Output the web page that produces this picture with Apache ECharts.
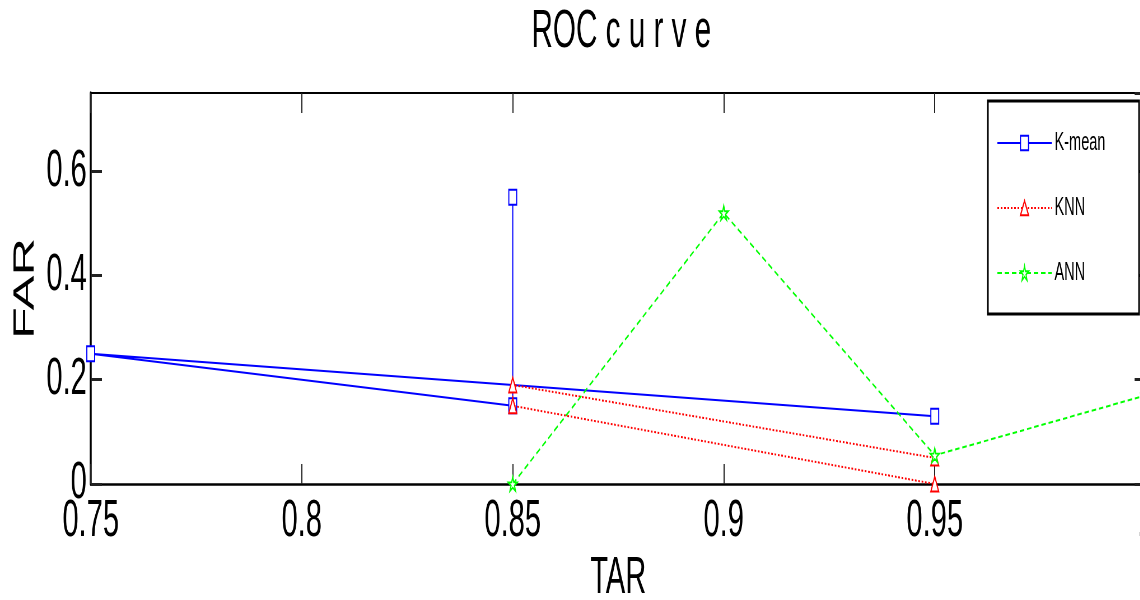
<!DOCTYPE html>
<html>
<head>
<meta charset="utf-8">
<script src="https://cdn.jsdelivr.net/npm/echarts@6/dist/echarts.min.js"></script>
<style>
  html, body { margin: 0; padding: 0; overflow: hidden; background: #fff; width: 1140px; height: 600px; }
  /* the reference is a horizontally squeezed MATLAB figure, so draw wide and squeeze */
  #chart { position: absolute; left: 0; top: 0; width: 2060px; height: 600px;
           transform: scaleX(0.56); transform-origin: 0 0; }
</style>
</head>
<body>
<div id="chart"></div>
<script>
const xTicks = [0.75, 0.8, 0.85, 0.9, 0.95, 1.0];
const yTicks = [0, 0.2, 0.4, 0.6];

const seriesNames = ['K-mean', 'KNN', 'ANN'];

const kmeanTAR = [0.95, 0.75, 0.85, 0.85];
const kmeanFAR = [0.13, 0.25, 0.15, 0.55];

const knnTAR = [0.95, 0.85, 0.85, 0.95];
const knnFAR = [0.05, 0.19, 0.15, 0.0];

const annTAR = [0.85, 0.9, 0.95, 1.0];
const annFAR = [0.0, 0.52, 0.055, 0.17];

const starPath = 'path://M100 0 L122.5 69.1 L195.1 69.1 L136.3 111.8 L158.8 180.9 L100 138.2 L41.2 180.9 L63.7 111.8 L4.9 69.1 L77.5 69.1 Z';

function zip(xs, ys) {
  return xs.map((x, i) => [x, ys[i]]);
}

const font = '"Liberation Sans", Arial, Helvetica, sans-serif';

const chart = echarts.init(document.getElementById('chart'));

const baseX = {
  type: 'value',
  min: xTicks[0],
  max: xTicks[xTicks.length - 1],
  interval: 0.05,
  splitLine: { show: false },
  axisLine: { show: true, onZero: false, lineStyle: { color: '#000', width: 2.5 } },
  axisTick: { show: true, inside: true, length: 20, lineStyle: { color: '#222', width: 2 } }
};

const baseY = {
  type: 'value',
  min: yTicks[0],
  max: 0.75,
  interval: 0.2,
  splitLine: { show: false },
  axisLine: { show: true, onZero: false, lineStyle: { color: '#000', width: 3.5 } },
  axisTick: { show: true, inside: true, length: 20, lineStyle: { color: '#222', width: 3 } }
};

chart.setOption({
  animation: false,
  backgroundColor: '#fff',
  title: {
    text: 'ROC c u r v e',
    left: 944,
    top: 1,
    textStyle: { fontFamily: font, fontSize: 53, fontWeight: 'normal', color: '#000' }
  },
  grid: { left: 162, right: 14, top: 93, bottom: 116, containLabel: false, outerBoundsMode: 'none' },
  legend: {
    data: seriesNames,
    orient: 'vertical',
    left: 1764,
    top: 101,
    width: 268,
    padding: [29, 60, 28, 16],
    itemGap: 39,
    itemWidth: 97,
    itemHeight: 18,
    backgroundColor: '#fff',
    borderColor: '#000',
    borderWidth: 3,
    borderRadius: 0,
    textStyle: { fontFamily: font, fontSize: 26, color: '#000' }
  },
  xAxis: [
    Object.assign({}, baseX, {
      position: 'bottom',
      name: 'TAR',
      nameLocation: 'middle',
      nameGap: 66,
      nameTextStyle: { fontFamily: font, fontSize: 52, color: '#000' },
      axisLabel: { margin: 12, fontFamily: font, fontSize: 52, color: '#000' }
    }),
    Object.assign({}, baseX, {
      position: 'top',
      axisLabel: { show: false },
      axisLine: { show: true, onZero: false, lineStyle: { color: '#000', width: 2 } }
    })
  ],
  yAxis: [
    Object.assign({}, baseY, {
      position: 'left',
      name: 'FAR',
      nameLocation: 'middle',
      nameGap: 90,
      nameTextStyle: { fontFamily: font, fontSize: 52, color: '#000' },
      axisLabel: { margin: 7, fontFamily: font, fontSize: 52, color: '#000', showMaxLabel: false }
    }),
    Object.assign({}, baseY, {
      position: 'right',
      axisLabel: { show: false }
    })
  ],
  series: [
    {
      name: seriesNames[0],
      type: 'line',
      data: zip(kmeanTAR, kmeanFAR),
      symbol: 'emptyRect',
      symbolSize: [14, 15],
      lineStyle: { color: '#0000ff', width: 2, type: 'solid' },
      itemStyle: { color: '#0000ff', borderWidth: 2 },
      z: 3
    },
    {
      name: seriesNames[1],
      type: 'line',
      data: zip(knnTAR, knnFAR),
      symbol: 'emptyTriangle',
      symbolSize: [14, 15],
      lineStyle: { color: '#ff0000', width: 2, type: [3, 3] },
      itemStyle: { color: '#ff0000', borderWidth: 2 },
      z: 4
    },
    {
      name: seriesNames[2],
      type: 'line',
      data: zip(annTAR, annFAR),
      symbol: starPath,
      symbolSize: [16, 14],
      lineStyle: { color: '#00ff00', width: 2, type: [8, 5] },
      itemStyle: { color: '#fff', borderColor: '#00ff00', borderWidth: 2 },
      z: 5
    }
  ]
});
</script>
</body>
</html>
